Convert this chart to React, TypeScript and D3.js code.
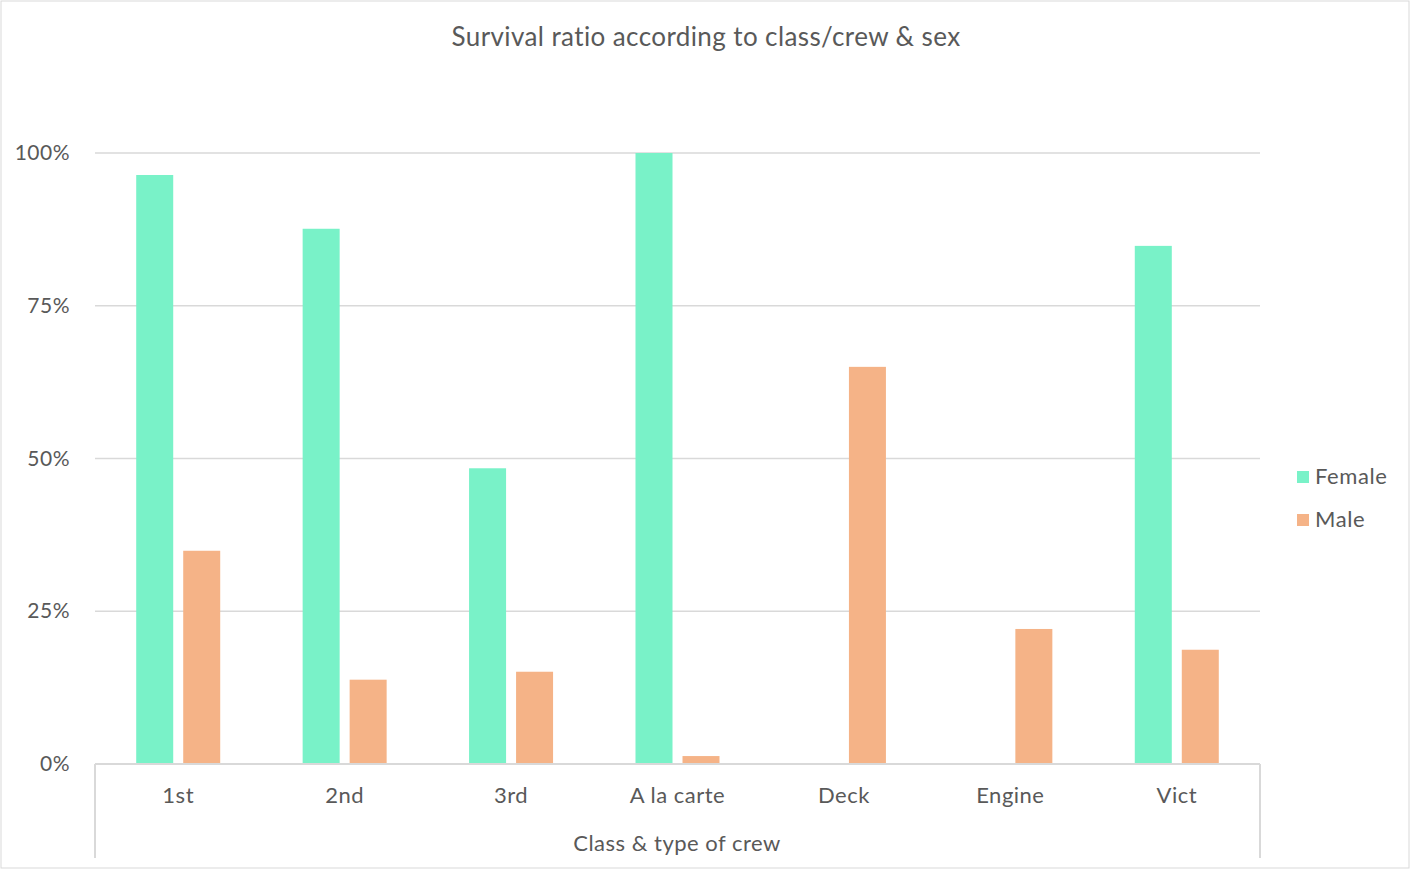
import * as d3 from "d3";
import React from "react";

const categories = ["1st", "2nd", "3rd", "A la carte", "Deck", "Engine", "Vict"];
const series = ["Female", "Male"];
const female = [0.964, 0.876, 0.484, 1.0, 0, 0, 0.848];
const male = [0.349, 0.138, 0.151, 0.013, 0.65, 0.221, 0.187];
const yTicks = [0, 0.25, 0.5, 0.75, 1];

const W = 1410;
const H = 870;
const colors = ["#79F2C8", "#F5B387"];
const textColor = "#595959";
const gridColor = "#D9D9D9";
const font = "Lato, 'Open Sans', sans-serif";

export default function App() {
  const margin = { left: 95, right: 150, top: 153, bottom: 106 };
  const x = d3
    .scaleBand<string>()
    .domain(categories)
    .range([margin.left, W - margin.right])
    .paddingInner(0)
    .paddingOuter(0);
  const y = d3.scaleLinear().domain([0, 1]).range([H - margin.bottom, margin.top]);
  const barW = 37;
  const gap = 10;
  const values = [female, male];
  const y0 = y(0);

  return (
    <div style={{ position: "fixed", left: 0, top: 0 }}>
      <svg width={W} height={H} style={{ fontFamily: font, display: "block" }}>
        <rect x={1} y={1} width={W - 2} height={H - 3} fill="#fff" stroke={gridColor} strokeWidth={1} />
        <text x={706} y={46} textAnchor="middle" fontSize={26} letterSpacing={0.4} fill={textColor}>
          Survival ratio according to class/crew &amp; sex
        </text>
        {yTicks.map((t) => (
          <g key={t}>
            <line x1={margin.left} x2={W - margin.right} y1={y(t)} y2={y(t)} stroke={gridColor} strokeWidth={1.5} />
            <text x={70} y={y(t) + 7} textAnchor="end" fontSize={21} letterSpacing={0.5} fill={textColor}>
              {d3.format(".0%")(t)}
            </text>
          </g>
        ))}
        {values.map((vals, si) =>
          categories.map((c, i) => {
            const cx = (x(c) ?? 0) + x.bandwidth() / 2;
            const bx = si === 0 ? cx - gap / 2 - barW : cx + gap / 2;
            const v = vals[i];
            if (!v) return null;
            return (
              <rect key={`${si}-${i}`} x={bx} y={y(v)} width={barW} height={y0 - y(v)} fill={colors[si]} />
            );
          })
        )}
        <line x1={margin.left} x2={W - margin.right} y1={y0} y2={y0} stroke={gridColor} strokeWidth={2} />
        <line x1={margin.left} x2={margin.left} y1={y0} y2={858} stroke={gridColor} strokeWidth={2} />
        <line x1={W - margin.right} x2={W - margin.right} y1={y0} y2={858} stroke={gridColor} strokeWidth={2} />
        {categories.map((c) => (
          <text
            key={c}
            x={(x(c) ?? 0) + x.bandwidth() / 2}
            y={803}
            textAnchor="middle"
            fontSize={22}
            letterSpacing={0.5}
            fill={textColor}
          >
            {c}
          </text>
        ))}
        <text x={677} y={851} textAnchor="middle" fontSize={22} letterSpacing={0.5} fill={textColor}>
          Class &amp; type of crew
        </text>
        {series.map((s, i) => (
          <g key={s} transform={`translate(1297,${471 + i * 43})`}>
            <rect x={0} y={0} width={12} height={12} fill={colors[i]} />
            <text x={18} y={13} fontSize={22} letterSpacing={0.6} fill={textColor}>
              {s}
            </text>
          </g>
        ))}
      </svg>
    </div>
  );
}
